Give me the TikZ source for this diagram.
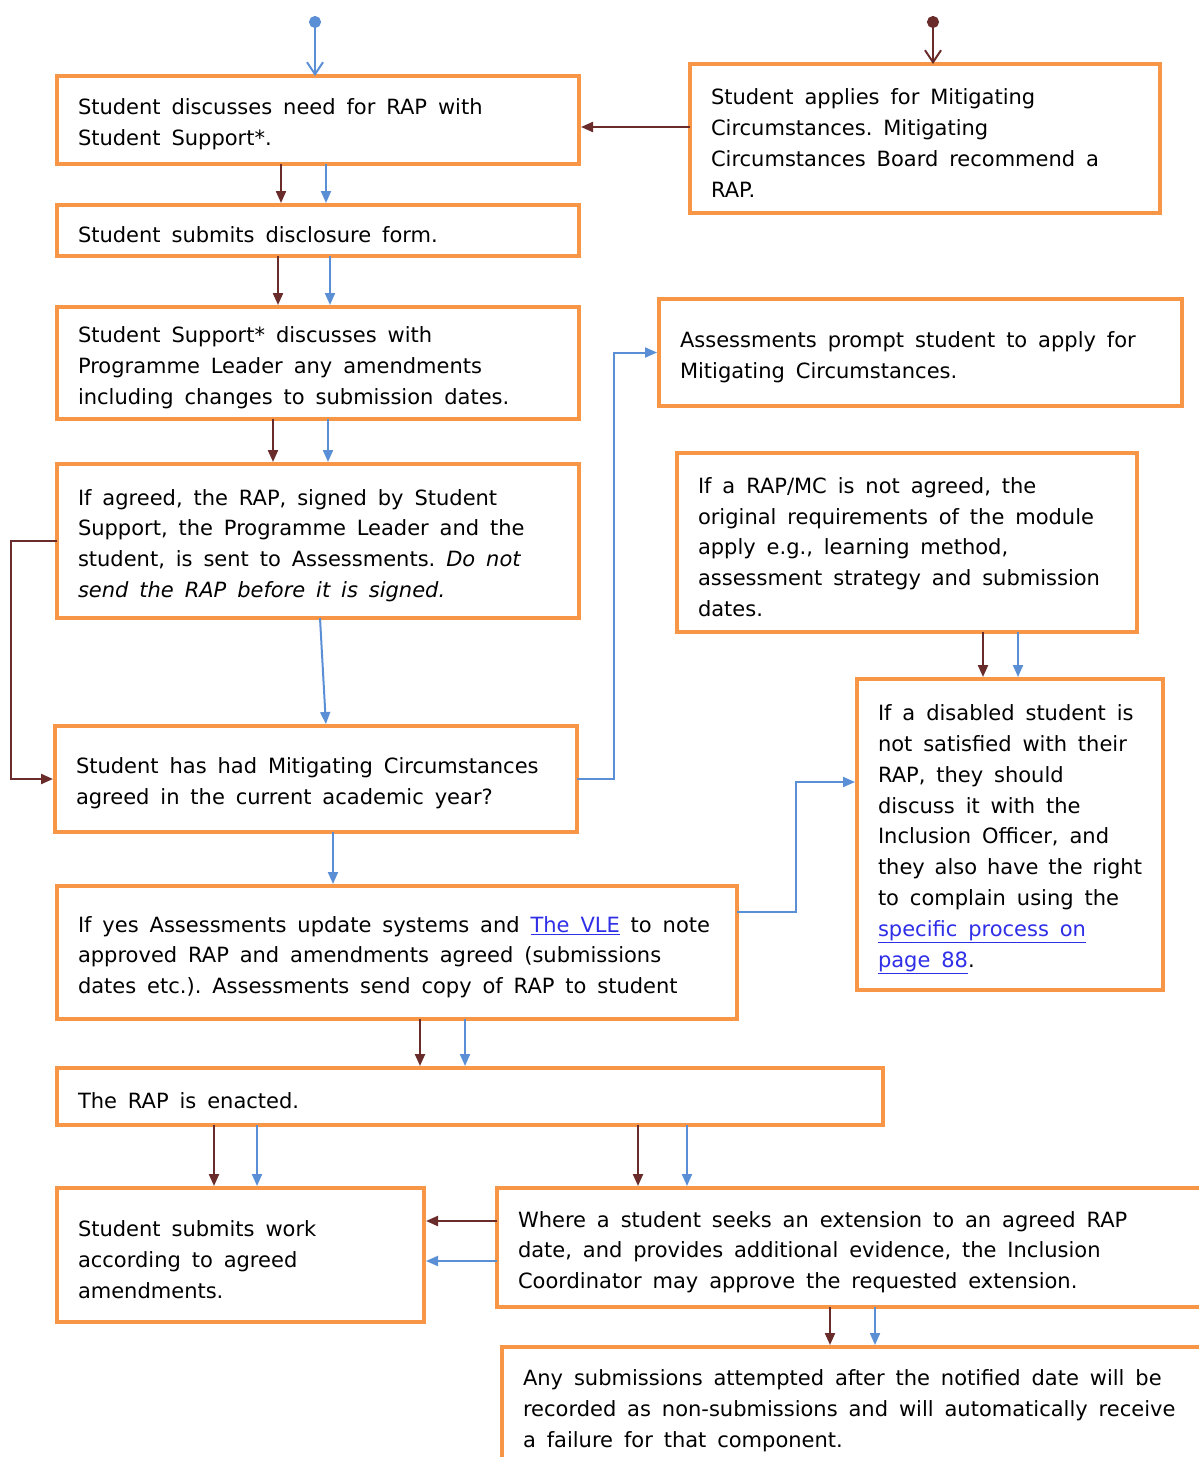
\documentclass[tikz,border=0pt]{standalone}
\usepackage{fontspec}
\setmainfont{DejaVu Sans}
\usetikzlibrary{arrows.meta, positioning}
\definecolor{boxorange}{HTML}{F79646}
\definecolor{darkflow}{HTML}{6A2B2B}
\definecolor{blueflow}{HTML}{5A8FD6}
\definecolor{linkblue}{HTML}{2F2FE8}
\newcommand{\weblink}[1]{\textcolor{linkblue}{\underline{#1}}}

\begin{document}
\begin{tikzpicture}[
    x=1pt, y=-1pt,
    every node/.style={font=\fontsize{21}{30.8}\selectfont},
    stage/.style={rectangle, draw=boxorange, line width=4pt, fill=white, anchor=north west, align=left, inner xsep=21pt, inner ysep=3pt, outer sep=0pt, execute at begin node={\spaceskip=10.9pt plus 3pt minus 2pt\xspaceskip=\spaceskip\rule{0pt}{25pt}}},
    darrow/.style={-{Triangle[length=12pt, width=10pt]}, line width=2.2pt, draw=darkflow, shorten >=2pt},
    barrow/.style={-{Triangle[length=12pt, width=10pt]}, line width=2pt, draw=blueflow, shorten >=2pt},
    entry/.style={{Circle[length=12pt]}-{Straight Barb[length=12pt, width=16pt]}, line width=2pt}
]
\useasboundingbox (0,0) rectangle (1199,1457);

% ================= LEFT COLUMN =================
\node[stage, text width=480pt, minimum width=522pt, minimum height=88pt] (discuss) at (57,76) {Student discusses need for RAP with\\Student Support*.};
\node[stage, text width=480pt, minimum width=522pt, minimum height=51pt] (form) at (57,205) {Student submits disclosure form.};
\node[stage, text width=480pt, minimum width=522pt, minimum height=112pt] (amend) at (57,307) {Student Support* discusses with\\Programme Leader any amendments\\including changes to submission dates.};
\node[stage, text width=480pt, minimum width=522pt, minimum height=154pt] (signed) at (57,464) {If agreed, the RAP, signed by Student\\Support, the Programme Leader and the\\student, is sent to Assessments. \textit{Do not}\\\textit{send the RAP before it is signed.}};
\node[stage, text width=480pt, minimum width=522pt, minimum height=106pt] (mcagreed) at (55,726) {Student has had Mitigating Circumstances\\agreed in the current academic year?};
\node[stage, text width=638pt, minimum width=680pt, minimum height=133pt] (update) at (57,886) {If yes Assessments update systems and \weblink{The VLE} to note\\approved RAP and amendments agreed (submissions\\dates etc.). Assessments send copy of RAP to student};

% ================= RIGHT COLUMN =================
\node[stage, text width=428pt, minimum width=470pt, minimum height=149pt] (mcapply) at (690,64) {Student applies for Mitigating\\Circumstances. Mitigating\\Circumstances Board recommend a\\RAP.};
\node[stage, text width=481pt, minimum width=523pt, minimum height=107pt] (prompt) at (659,299) {Assessments prompt student to apply for\\Mitigating Circumstances.};
\node[stage, text width=418pt, minimum width=460pt, minimum height=179pt] (notagreed) at (677,453) {If a RAP/MC is not agreed, the\\original requirements of the module\\apply e.g., learning method,\\assessment strategy and submission\\dates.};
\node[stage, text width=264pt, minimum width=306pt, minimum height=311pt] (disabled) at (857,679) {If a disabled student is\\not satisfied with their\\RAP, they should\\discuss it with the\\Inclusion Officer, and\\they also have the right\\to complain using the\\\weblink{specific process on}\\\weblink{page 88}.};

% ================= BOTTOM =================
\node[stage, text width=784pt, minimum width=826pt, minimum height=57pt] (enacted) at (57,1068) {The RAP is enacted.};
\node[stage, text width=325pt, minimum width=367pt, minimum height=134pt] (work) at (57,1188) {Student submits work\\according to agreed\\amendments.};
\node[stage, text width=671pt, minimum width=713pt, minimum height=119pt] (extension) at (497,1188) {Where a student seeks an extension to an agreed RAP\\date, and provides additional evidence, the Inclusion\\Coordinator may approve the requested extension.};
\node[stage, text width=666pt, minimum width=708pt, minimum height=118pt] (late) at (502,1347) {Any submissions attempted after the notified date will be\\recorded as non-submissions and will automatically receive\\a failure for that component.};

% ================= CONNECTORS =================
\coordinate (startL) at (315,16);
\coordinate (startR) at (933,16);
\draw[entry, draw=blueflow] (startL) -- (discuss.north -| startL);
\draw[entry, draw=darkflow] (startR) -- (mcapply.north -| startR);
\draw[darrow] (mcapply.west |- 0,127) -- (discuss.east |- 0,127);

\draw[darrow] (discuss.south -| 281,0) -- (form.north -| 281,0);
\draw[barrow] (discuss.south -| 326,0) -- (form.north -| 326,0);
\draw[darrow] (form.south -| 278,0) -- (amend.north -| 278,0);
\draw[barrow] (form.south -| 330,0) -- (amend.north -| 330,0);
\draw[darrow] (amend.south -| 273,0) -- (signed.north -| 273,0);
\draw[barrow] (amend.south -| 328,0) -- (signed.north -| 328,0);
\draw[barrow] (signed.south -| 320,0) -- (mcagreed.north -| 326,0);
\draw[darrow] (signed.west) -- ++(-46,0) |- (mcagreed.west);
\draw[barrow] (mcagreed.east) -- ++(37,0) |- (prompt.west);
\draw[barrow] (mcagreed.south -| 333,0) -- (update.north -| 333,0);

\draw[darrow] (notagreed.south -| 983,0) -- (disabled.north -| 983,0);
\draw[barrow] (notagreed.south -| 1018,0) -- (disabled.north -| 1018,0);
\draw[barrow] (update.east |- 0,912) -- ++(59,0) |- (disabled.west |- 0,782);

\draw[darrow] (update.south -| 420,0) -- (enacted.north -| 420,0);
\draw[barrow] (update.south -| 465,0) -- (enacted.north -| 465,0);
\draw[darrow] (enacted.south -| 214,0) -- (work.north -| 214,0);
\draw[barrow] (enacted.south -| 257,0) -- (work.north -| 257,0);
\draw[darrow] (enacted.south -| 638,0) -- (extension.north -| 638,0);
\draw[barrow] (enacted.south -| 687,0) -- (extension.north -| 687,0);
\draw[darrow] (extension.west |- 0,1221) -- (work.east |- 0,1221);
\draw[barrow] (extension.west |- 0,1261) -- (work.east |- 0,1261);
\draw[darrow] (extension.south -| 830,0) -- (late.north -| 830,0);
\draw[barrow] (extension.south -| 875,0) -- (late.north -| 875,0);

\end{tikzpicture}
\end{document}
